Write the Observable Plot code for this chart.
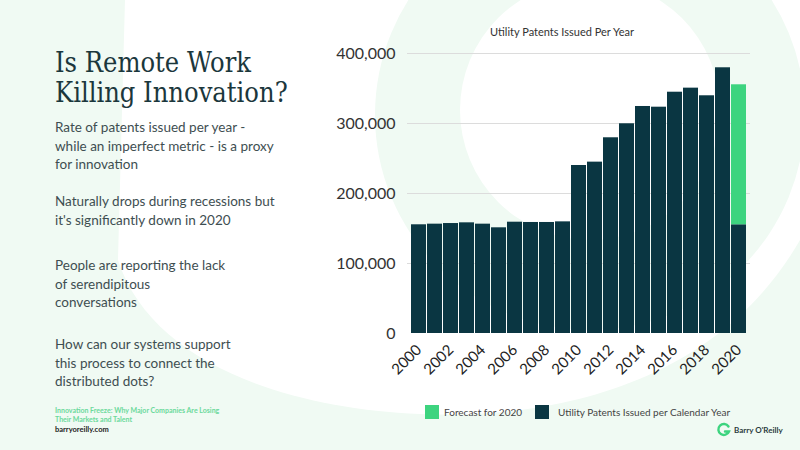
<!DOCTYPE html>
<html>
<head>
<meta charset="utf-8">
<script src="https://cdn.jsdelivr.net/npm/d3@7"></script>
<script src="https://cdn.jsdelivr.net/npm/@observablehq/plot@0.6"></script>
<style>
  html, body { margin: 0; padding: 0; background: #fff; }
  #page { position: relative; width: 800px; height: 450px; overflow: hidden; font-family: Lato, sans-serif; }
  .abs { position: absolute; }
  #title { left: 55px; top: 48px; font-family: "DejaVu Serif Condensed", "DejaVu Serif", serif; font-stretch: semi-condensed; font-size: 27px; line-height: 30px; color: #1b373c; white-space: nowrap; }
  .para { left: 55px; font-size: 13.5px; line-height: 18.5px; color: #3e4e51; white-space: nowrap; }
  #ctitle { left: 412px; width: 300px; top: 25px; text-align: center; font-size: 11px; line-height: 13px; color: #333; }
  .sw { width: 14px; height: 14px; }
  .lg { font-size: 10px; line-height: 12px; color: #444; top: 406px; white-space: nowrap; }
  .cap { left: 55px; font-size: 7px; font-weight: bold; line-height: 9px; color: #6bd99b; white-space: nowrap; }
</style>
</head>
<body>
<div id="page">
  <svg class="abs" width="800" height="450" style="left:0;top:0">
    <rect width="800" height="450" fill="#f0faf3"/>
    <path d="M125,0 L800,0 L800,240 C 720,380 560,420 420,414 C 280,408 150,360 118,260 Z" fill="#ffffff"/>
    <circle cx="590" cy="115" r="215" fill="#f0faf3"/>
    <circle cx="590" cy="110" r="130" fill="#ffffff"/>
  </svg>

  <div id="title" class="abs">Is Remote Work<br>Killing Innovation?</div>
  <div class="abs para" style="top:118px">Rate of patents issued per year -<br>while an imperfect metric - is a proxy<br>for innovation</div>
  <div class="abs para" style="top:192px">Naturally drops during recessions but<br>it's significantly down in 2020</div>
  <div class="abs para" style="top:256px">People are reporting the lack<br>of serendipitous<br>conversations</div>
  <div class="abs para" style="top:335px">How can our systems support<br>this process to connect the<br>distributed dots?</div>

  <div class="abs cap" style="top:406px">Innovation Freeze: Why Major Companies Are Losing</div>
  <div class="abs cap" style="top:415px">Their Markets and Talent</div>
  <div class="abs cap" style="top:425px; color:#222; font-size:7.5px">barryoreilly.com</div>

  <div id="ctitle" class="abs">Utility Patents Issued Per Year</div>
  <div id="chart" class="abs" style="left:320px; top:40px"></div>

  <div id="legend"></div>

  <svg class="abs" width="16" height="16" style="left:716px; top:422px" viewBox="0 0 16 16">
    <path d="M12.5,4.5 A5.5,5.5 0 1 0 13,9.5 L9,9.5" fill="none" stroke="#3dd47f" stroke-width="2.4" stroke-linecap="round"/>
  </svg>
  <div class="abs" style="left:734px; top:425px; font-size:8px; font-weight:bold; color:#2b3a3d; line-height:10px; white-space:nowrap">Barry O'Reilly</div>
</div>

<script>
// ---- data ----
const years = [2000, 2001, 2002, 2003, 2004, 2005, 2006, 2007, 2008, 2009, 2010,
               2011, 2012, 2013, 2014, 2015, 2016, 2017, 2018, 2019, 2020];
const issued = [155300, 156200, 157100, 158100, 156200, 151000, 159000, 158600, 158600, 159500, 240000,
                244800, 279600, 299600, 324300, 323300, 344700, 350500, 339600, 379600, 155300];
const forecastYears = [2020];
const forecastValues = [200000];
const yTicks = [0, 100000, 200000, 300000, 400000];
const xTickLabels = [2000, 2002, 2004, 2006, 2008, 2010, 2012, 2014, 2016, 2018, 2020];
const seriesNames = ["Utility Patents Issued per Calendar Year", "Forecast for 2020"];
const seriesColors = ["#0a3642", "#3dd47f"];

const rows = [
  ...years.map((y, i) => ({year: y, value: issued[i], series: seriesNames[0]})),
  ...forecastYears.map((y, i) => ({year: y, value: forecastValues[i], series: seriesNames[1]}))
];

const chart = Plot.plot({
  width: 450,
  height: 345,
  marginLeft: 87,
  marginRight: 20,
  marginTop: 13,
  marginBottom: 52,
  style: {fontFamily: "Lato, sans-serif", background: "transparent"},
  x: {type: "band", domain: years, padding: 0.08, label: null},
  y: {domain: [0, 400000], label: null},
  color: {domain: seriesNames, range: seriesColors},
  marks: [
    Plot.ruleY(yTicks.filter(d => d > 0), {stroke: "#dcdcdc", strokeWidth: 1}),
    Plot.barY(rows, {x: "year", y: "value", fill: "series", z: "series"}),
    Plot.axisY({ticks: yTicks, tickSize: 0, tickPadding: 12, tickFormat: d3.format(","), fontSize: 16, fill: "#333", label: null}),
    Plot.axisX({ticks: xTickLabels, tickSize: 0, tickPadding: 14, tickRotate: -45, tickFormat: d => String(d), fontSize: 15, fill: "#222", label: null})
  ]
});
document.getElementById("chart").appendChild(chart);

// legend (built from the series arrays)
const legend = document.getElementById("legend");
const legendPos = [{sq: 425, tx: 444}, {sq: 535, tx: 558}];
[1, 0].forEach((si, k) => {
  const sq = document.createElement("div");
  sq.className = "abs sw";
  sq.style.left = legendPos[k].sq + "px";
  sq.style.top = "405px";
  sq.style.background = seriesColors[si];
  legend.appendChild(sq);
  const tx = document.createElement("div");
  tx.className = "abs lg";
  tx.style.left = legendPos[k].tx + "px";
  tx.textContent = seriesNames[si];
  legend.appendChild(tx);
});
</script>
</body>
</html>
